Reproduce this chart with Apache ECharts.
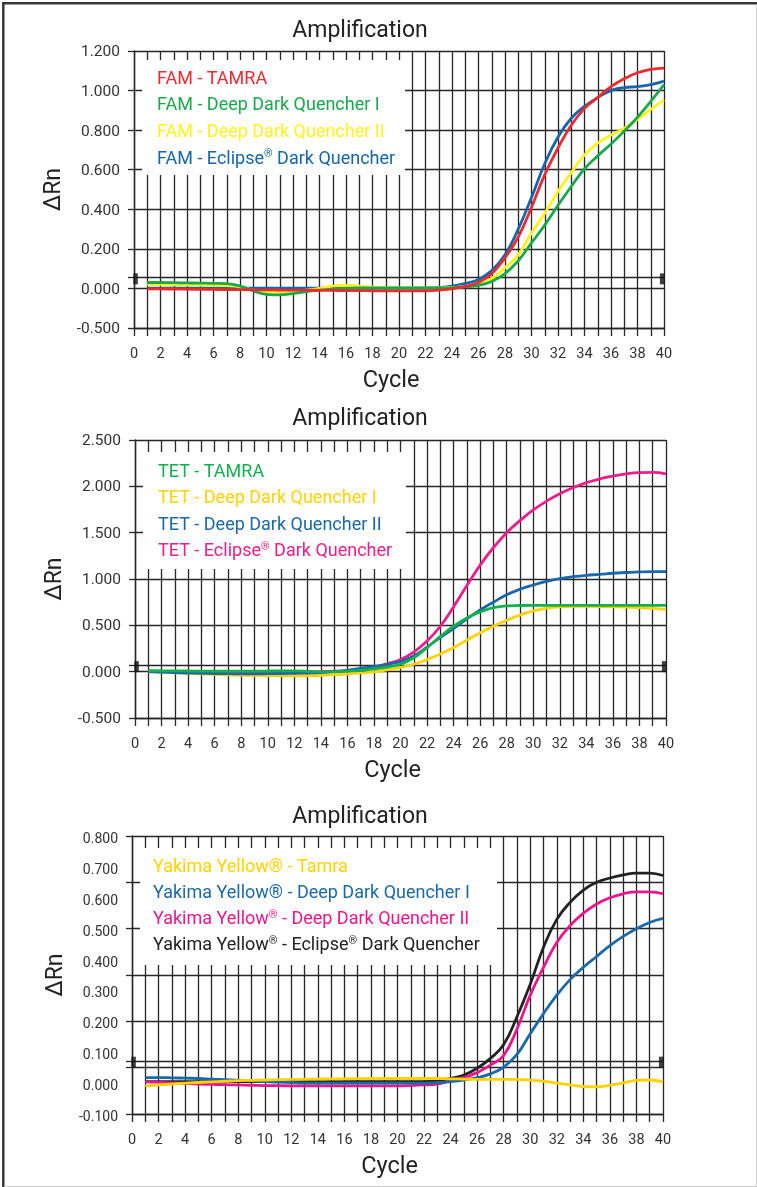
<!DOCTYPE html>
<html><head><meta charset="utf-8">
<script src="https://cdn.jsdelivr.net/npm/echarts@6/dist/echarts.min.js"></script>
<style>html,body{margin:0;padding:0;background:#fff}#c{width:757px;height:1187px}</style>
</head><body><div id="c"></div>
<script>
const FONT = 'Roboto, "Noto Sans", sans-serif';
const cycles = [1,2,3,4,5,6,7,8,9,10,11,12,13,14,15,16,17,18,19,20,21,22,23,24,25,26,27,28,29,30,31,32,33,34,35,36,37,38,39,40];

// ---- Chart 1: FAM ----
const famNames = ['FAM - TAMRA','FAM - Deep Dark Quencher I','FAM - Deep Dark Quencher II','FAM - Eclipse® Dark Quencher'];
const famColors = ['#ee2a2f','#17a94c','#fff21a','#1566aa'];
const famTamra = [-0.005,-0.006,-0.008,-0.01,-0.012,-0.013,-0.014,-0.015,-0.017,-0.018,-0.02,-0.021,-0.022,-0.024,-0.025,-0.027,-0.028,-0.03,-0.031,-0.032,-0.032,-0.031,-0.022,-0.006,0.01,0.03,0.075,0.155,0.26,0.41,0.575,0.71,0.825,0.91,0.965,1.02,1.06,1.09,1.107,1.113];
const famDDQ1 = [0.03,0.03,0.029,0.028,0.027,0.026,0.024,0.012,-0.03,-0.075,-0.082,-0.065,-0.04,-0.022,-0.008,0.0,0.003,0.003,0.003,0.003,0.003,0.003,0.003,0.004,0.008,0.015,0.035,0.075,0.14,0.23,0.32,0.42,0.515,0.605,0.67,0.73,0.795,0.865,0.945,1.03];
const famDDQ2 = [0.02,0.02,0.019,0.018,0.017,0.016,0.014,0.008,-0.02,-0.04,-0.05,-0.042,-0.022,0.0,0.012,0.016,0.012,0.007,0.004,0.003,0.003,0.003,0.003,0.005,0.01,0.022,0.05,0.105,0.17,0.28,0.38,0.49,0.585,0.675,0.735,0.775,0.81,0.855,0.905,0.953];
const famEclipse = [0.002,0.002,0.002,0.002,0.002,0.002,0.002,0.002,0.002,0.002,0.002,0.002,0.002,0.002,0.002,0.002,0.002,0.002,0.002,0.002,0.002,0.002,0.005,0.012,0.025,0.045,0.09,0.17,0.3,0.46,0.63,0.765,0.86,0.92,0.965,1.0,1.015,1.02,1.03,1.048];
const yLabels1 = [-0.5,0,0.2,0.4,0.6,0.8,1.0,1.2];
const threshold1 = 0.055;

// ---- Chart 2: TET ----
const tetNames = ['TET - TAMRA','TET - Deep Dark Quencher I','TET - Deep Dark Quencher II','TET - Eclipse® Dark Quencher'];
const tetColors = ['#12b04f','#ffd200','#1a68a8','#ec1e8c'];
const tetTamra = [0.01,0.009,0.008,0.007,0.006,0.005,0.005,0.005,0.006,0.007,0.008,0.008,0.004,-0.002,0.0,0.005,0.015,0.03,0.05,0.08,0.15,0.26,0.38,0.49,0.58,0.645,0.69,0.71,0.714,0.715,0.715,0.715,0.715,0.715,0.715,0.715,0.715,0.715,0.715,0.715];
const tetDDQ1 = [0.0,-0.005,-0.012,-0.018,-0.024,-0.03,-0.035,-0.038,-0.04,-0.042,-0.044,-0.045,-0.043,-0.04,-0.032,-0.024,-0.014,-0.002,0.02,0.045,0.08,0.13,0.19,0.26,0.34,0.42,0.49,0.555,0.61,0.655,0.685,0.70,0.705,0.705,0.703,0.70,0.697,0.69,0.682,0.672];
const tetDDQ2 = [0.0,-0.005,-0.01,-0.015,-0.018,-0.02,-0.022,-0.023,-0.023,-0.022,-0.02,-0.018,-0.015,-0.01,0.0,0.015,0.035,0.055,0.08,0.11,0.17,0.265,0.37,0.465,0.57,0.665,0.75,0.83,0.89,0.935,0.975,1.005,1.025,1.04,1.05,1.062,1.07,1.077,1.08,1.08];
const tetEclipse = [0.005,0.004,0.002,0.0,-0.002,-0.004,-0.005,-0.006,-0.006,-0.006,-0.006,-0.005,-0.003,0.0,0.005,0.012,0.025,0.05,0.085,0.13,0.21,0.33,0.49,0.70,0.93,1.15,1.34,1.50,1.63,1.745,1.84,1.92,1.985,2.04,2.08,2.11,2.135,2.148,2.15,2.135];
const yLabels2 = [-0.5,0,0.5,1.0,1.5,2.0,2.5];
const threshold2 = 0.068;

// ---- Chart 3: Yakima Yellow ----
const yyNames = ['Yakima Yellow® - Tamra','Yakima Yellow® - Deep Dark Quencher I','Yakima Yellow® - Deep Dark Quencher II','Yakima Yellow® - Eclipse® Dark Quencher'];
const yyColors = ['#ffd200','#1a6aaa','#ec168c','#222222'];
const yyTamra = [-0.009,-0.006,-0.003,0.0,0.002,0.004,0.006,0.008,0.009,0.01,0.011,0.012,0.0125,0.013,0.0135,0.014,0.0145,0.015,0.015,0.015,0.015,0.015,0.015,0.014,0.013,0.012,0.012,0.012,0.012,0.01,0.006,0.0,-0.006,-0.011,-0.012,-0.007,0.001,0.009,0.01,0.004];
const yyDDQ1 = [0.018,0.018,0.017,0.016,0.015,0.013,0.011,0.009,0.007,0.005,0.003,0.002,0.0,0.0,0.0,0.0,0.0,0.0,0.0,0.0,0.0,0.0,0.002,0.005,0.01,0.018,0.03,0.052,0.093,0.16,0.225,0.285,0.335,0.375,0.41,0.445,0.475,0.5,0.52,0.533];
const yyDDQ2 = [0.004,0.003,0.001,-0.001,-0.003,-0.004,-0.005,-0.006,-0.007,-0.008,-0.008,-0.009,-0.009,-0.009,-0.009,-0.009,-0.009,-0.009,-0.009,-0.009,-0.008,-0.006,-0.003,0.008,0.018,0.034,0.058,0.09,0.175,0.285,0.375,0.455,0.51,0.55,0.58,0.60,0.613,0.619,0.619,0.613];
const yyEclipse = [0.005,0.005,0.005,0.005,0.005,0.005,0.005,0.005,0.005,0.005,0.005,0.005,0.005,0.005,0.005,0.005,0.005,0.005,0.005,0.005,0.005,0.005,0.008,0.015,0.026,0.048,0.08,0.125,0.215,0.32,0.44,0.53,0.585,0.625,0.65,0.664,0.674,0.68,0.68,0.672];
const yLabels3 = [-0.1,0,0.1,0.2,0.3,0.4,0.5,0.6,0.7,0.8];
const yGrid3 = [-0.1,0.05,0.2,0.35,0.5,0.65,0.8];
const threshold3 = 0.072;

const xLabels = [0,2,4,6,8,10,12,14,16,18,20,22,24,26,28,30,32,34,36,38,40];
const markerCycles = [0.12, 39.86];
const plainReg = ['Yakima Yellow® - Tamra','Yakima Yellow® - Deep Dark Quencher I'];

// chart 1 axis is compressed below zero (-0.5 occupies one 0.2 step)
const fwd1 = v => v < 0 ? v * 0.4 : v;
const inv1 = v => v < 0 ? v / 0.4 : v;
const ident = v => v;

const GRID_COL = '#262626';
const grids = [
  {left: 134, top: 51, width: 530, height: 277},
  {left: 135, top: 440, width: 531, height: 278},
  {left: 132, top: 836, width: 531, height: 278}
];

function xAxisOpt(i) {
  return {
    type: 'value', gridIndex: i, min: 0, max: 40, interval: 1,
    name: 'Cycle', nameLocation: 'middle', nameGap: 41,
    nameTextStyle: {fontFamily: FONT, fontSize: 23.5, color: '#222', padding: [0, 16, 0, 0]},
    axisLine: {show: true, onZero: false, lineStyle: {color: GRID_COL, width: 1.4}},
    axisTick: {show: true, length: 8, lineStyle: {color: GRID_COL, width: 1.3}},
    splitLine: {show: true, lineStyle: {color: GRID_COL, width: 1.3}},
    axisLabel: {fontFamily: FONT, fontSize: 14.5, color: '#333', margin: 18.5,
      formatter: v => xLabels.indexOf(v) >= 0 ? String(v) : ''}
  };
}
function yAxisOpt(i, min, max, interval, tickVals, fmt, labelSize, shift) {
  return {
    type: 'value', gridIndex: i, min, max, interval,
    name: 'ΔRn', nameLocation: 'middle', nameGap: 56,
    nameTextStyle: {fontFamily: FONT, fontSize: 23, color: '#222'},
    axisLine: {show: true, lineStyle: {color: GRID_COL, width: 1.4}},
    axisTick: {show: true, length: 6, customValues: tickVals, lineStyle: {color: GRID_COL, width: 1.3}},
    splitLine: {show: true, lineStyle: {color: GRID_COL, width: 1.3}},
    axisLabel: {fontFamily: FONT, fontSize: labelSize, color: '#333', margin: 14,
      verticalAlign: 'top', lineHeight: shift * 2, formatter: fmt}
  };
}

function lineSeries(name, vals, color, idx, tf) {
  return {
    type: 'line', name, xAxisIndex: idx, yAxisIndex: idx,
    data: cycles.map((c, k) => [c, tf(vals[k])]),
    smooth: 0.45, symbol: 'none', showSymbol: false,
    lineStyle: {width: 2.8, color}, itemStyle: {color},
    emphasis: {disabled: true}, z: 3
  };
}
function markerSeries(idx, t) {
  return {
    type: 'scatter', xAxisIndex: idx, yAxisIndex: idx, silent: true,
    data: markerCycles.map(c => [c, t]), symbol: 'rect', symbolSize: [4.5, 11],
    symbolOffset: [0, 1.3], itemStyle: {color: '#111'}, z: 5
  };
}
function legendOpt(names, colors, left, top, gap) {
  const rich = {};
  colors.forEach((c, i) => { rich['s' + i] = {fontFamily: FONT, fontSize: 11, lineHeight: 12, verticalAlign: 'top', color: c}; });
  return {
    orient: 'vertical', left, top, padding: 0, itemGap: gap, icon: 'none',
    itemWidth: 0, itemHeight: 20, selectedMode: false, z: 20,
    data: names.map((n, i) => ({name: n, textStyle: {color: colors[i]}})),
    formatter: n => plainReg.indexOf(n) >= 0 ? n : n.replace(/®/g, '{s' + names.indexOf(n) + '|®}'),
    textStyle: {fontFamily: FONT, fontSize: 18, lineHeight: 20, rich}
  };
}

const tick1 = yLabels1.map(fwd1).concat([fwd1(threshold1)]);
const tick2 = yLabels2.concat([threshold2]);
const tick3 = yGrid3.concat([threshold3]);

const series = [
  // chart 1 (drawing order bottom->top)
  lineSeries(famNames[3], famEclipse, famColors[3], 0, fwd1),
  lineSeries(famNames[2], famDDQ2, famColors[2], 0, fwd1),
  lineSeries(famNames[1], famDDQ1, famColors[1], 0, fwd1),
  lineSeries(famNames[0], famTamra, famColors[0], 0, fwd1),
  markerSeries(0, fwd1(threshold1)),
  // chart 2
  lineSeries(tetNames[1], tetDDQ1, tetColors[1], 1, ident),
  lineSeries(tetNames[3], tetEclipse, tetColors[3], 1, ident),
  lineSeries(tetNames[2], tetDDQ2, tetColors[2], 1, ident),
  lineSeries(tetNames[0], tetTamra, tetColors[0], 1, ident),
  markerSeries(1, threshold2),
  // chart 3
  lineSeries(yyNames[3], yyEclipse, yyColors[3], 2, ident),
  lineSeries(yyNames[2], yyDDQ2, yyColors[2], 2, ident),
  lineSeries(yyNames[1], yyDDQ1, yyColors[1], 2, ident),
  lineSeries(yyNames[0], yyTamra, yyColors[0], 2, ident),
  markerSeries(2, threshold3)
];

const titleY = [31, 419.5, 817.5];
const boxes = [[142, 60, 263, 115], [143, 452, 263, 117], [140, 848, 357, 117]];
const graphic = [];
titleY.forEach(y => graphic.push({type: 'text', x: 360, y, z: 30,
  style: {text: 'Amplification', textAlign: 'center', textVerticalAlign: 'middle', fontFamily: FONT, fontSize: 23, fill: '#222'}}));
boxes.forEach(b => graphic.push({type: 'rect', z: 10, shape: {x: b[0], y: b[1], width: b[2], height: b[3]}, style: {fill: '#fff'}}));
graphic.push({type: 'line', z: 30, shape: {x1: 2, y1: 3.3, x2: 757, y2: 3.3}, style: {stroke: '#383838', lineWidth: 2.5}});
graphic.push({type: 'line', z: 30, shape: {x1: 3.3, y1: 2, x2: 3.3, y2: 1187}, style: {stroke: '#383838', lineWidth: 2.5}});
graphic.push({type: 'line', z: 30, shape: {x1: 756.5, y1: 4, x2: 756.5, y2: 1187}, style: {stroke: '#cfcfcf', lineWidth: 1}});
graphic.push({type: 'line', z: 30, shape: {x1: 4, y1: 1186.5, x2: 757, y2: 1186.5}, style: {stroke: '#cfcfcf', lineWidth: 1}});

const option = {
  animation: false,
  backgroundColor: '#fff',
  grid: grids,
  xAxis: [xAxisOpt(0), xAxisOpt(1), xAxisOpt(2)],
  yAxis: [
    yAxisOpt(0, fwd1(-0.5), 1.2, 0.2, tick1, v => inv1(v).toFixed(3), 15.5, 1.5),
    yAxisOpt(1, -0.5, 2.5, 0.5, tick2, v => v.toFixed(3), 15.5, 1),
    yAxisOpt(2, -0.1, 0.8, 0.1, tick3, v => v.toFixed(3), 14, 3.5)
  ],
  legend: [
    legendOpt(famNames, famColors, 152, 69, 6.7),
    legendOpt(tetNames, tetColors, 153, 462.5, 6.3),
    legendOpt(yyNames, yyColors, 148, 857.5, 6)
  ],
  graphic,
  series
};
const chart = echarts.init(document.getElementById('c'), null, {renderer: 'canvas'});
chart.setOption(option);
</script>
</body></html>
